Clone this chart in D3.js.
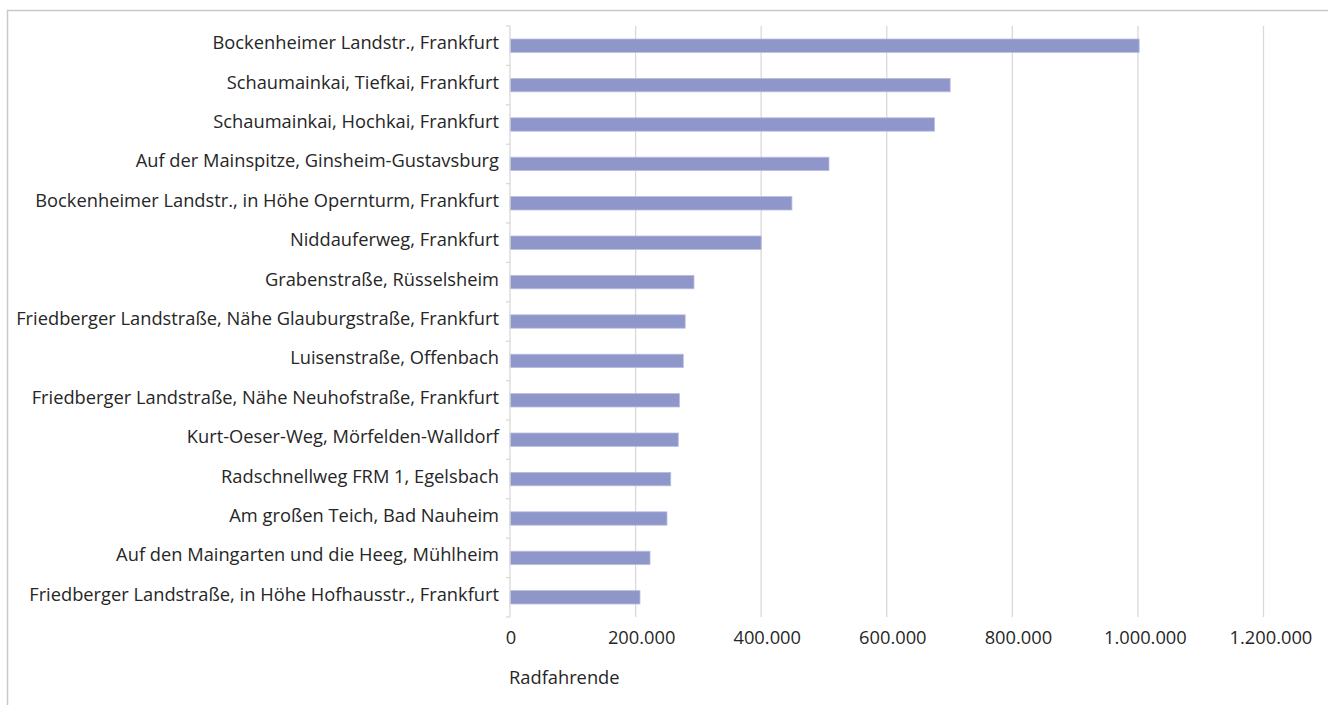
<!DOCTYPE html>
<html>
<head>
<meta charset="utf-8">
<script src="https://cdn.jsdelivr.net/npm/d3@7"></script>
<style>
  html, body { margin: 0; padding: 0; background: #fff; }
  svg { display: block; }
  text { font-family: "Open Sans", "Noto Sans", sans-serif; fill: #262626; }
</style>
</head>
<body>
<svg id="chart" width="1328" height="705"></svg>
<script>
// Counting stations, sorted by annual cyclist count
const stations = [
  "Bockenheimer Landstr., Frankfurt",
  "Schaumainkai, Tiefkai, Frankfurt",
  "Schaumainkai, Hochkai, Frankfurt",
  "Auf der Mainspitze, Ginsheim-Gustavsburg",
  "Bockenheimer Landstr., in Höhe Opernturm, Frankfurt",
  "Niddauferweg, Frankfurt",
  "Grabenstraße, Rüsselsheim",
  "Friedberger Landstraße, Nähe Glauburgstraße, Frankfurt",
  "Luisenstraße, Offenbach",
  "Friedberger Landstraße, Nähe Neuhofstraße, Frankfurt",
  "Kurt-Oeser-Weg, Mörfelden-Walldorf",
  "Radschnellweg FRM 1, Egelsbach",
  "Am großen Teich, Bad Nauheim",
  "Auf den Maingarten und die Heeg, Mühlheim",
  "Friedberger Landstraße, in Höhe Hofhausstr., Frankfurt"
];
const cyclists = [
  1002000, 701000, 676000, 508000, 449000, 400000, 293000,
  279000, 276000, 270000, 268000, 256000, 250000, 223000, 207000
];
const xTicks = [0, 200000, 400000, 600000, 800000, 1000000, 1200000];
const xTitle = "Radfahrende";

const svg = d3.select("#chart");
const W = 1328, H = 705;
const plot = { left: 510, right: 1263.5, top: 26, bottom: 617 };
const fontSize = 18.3;

// outer chart frame
svg.append("rect")
  .attr("x", 7.5).attr("y", 10.5)
  .attr("width", W + 10).attr("height", H + 10)
  .attr("fill", "none").attr("stroke", "#c9c9c9").attr("stroke-width", 1.5);

const x = d3.scaleLinear().domain([0, 1200000]).range([plot.left, plot.right]);
const y = d3.scaleBand().domain(stations).range([plot.top, plot.bottom]).paddingInner(0.66).paddingOuter(0.33);
const yb = d3.scaleBand().domain(stations).range([plot.top, plot.bottom]);

const fmt = d => d3.format(",")(d).replace(/,/g, ".");

// vertical gridlines
svg.append("g")
  .selectAll("line")
  .data(xTicks.slice(1))
  .join("line")
  .attr("x1", d => x(d)).attr("x2", d => x(d))
  .attr("y1", plot.top).attr("y2", plot.bottom)
  .attr("stroke", "#d9d9d9").attr("stroke-width", 1.3);

// bars
svg.append("g")
  .selectAll("rect")
  .data(stations)
  .join("rect")
  .attr("x", x(0))
  .attr("y", d => y(d))
  .attr("width", (d, i) => x(cyclists[i]) - x(0))
  .attr("height", y.bandwidth())
  .attr("fill", "#8e96ca")
  .attr("stroke", "#b9bedf").attr("stroke-width", 0.8);

// category axis line with band ticks
const yAxis = svg.append("g");
yAxis.append("line")
  .attr("x1", plot.left).attr("x2", plot.left)
  .attr("y1", plot.top).attr("y2", plot.bottom)
  .attr("stroke", "#d9d9d9").attr("stroke-width", 1.3);
yAxis.selectAll("line.tick")
  .data(stations.concat([null]))
  .join("line")
  .attr("class", "tick")
  .attr("x1", plot.left - 4).attr("x2", plot.left)
  .attr("y1", (d, i) => plot.top + i * yb.step())
  .attr("y2", (d, i) => plot.top + i * yb.step())
  .attr("stroke", "#d9d9d9").attr("stroke-width", 1.3);

// category labels
svg.append("g")
  .selectAll("text")
  .data(stations)
  .join("text")
  .attr("x", 499)
  .attr("y", d => yb(d) + yb.bandwidth() / 2 - 3)
  .attr("dy", "0.35em")
  .attr("text-anchor", "end")
  .attr("font-size", fontSize)
  .text(d => d);

// value axis labels (placed slightly right of the gridline, as in the source layout)
svg.append("g")
  .selectAll("text")
  .data(xTicks)
  .join("text")
  .attr("y", 637.6)
  .attr("dy", "0.35em")
  .attr("font-size", fontSize)
  .text(fmt)
  .attr("x", function (d) { return x(d) - 0.41 * this.getComputedTextLength(); });

svg.append("text")
  .attr("x", 509).attr("y", 678)
  .attr("dy", "0.35em")
  .attr("font-size", fontSize)
  .text(xTitle);
</script>
</body>
</html>
